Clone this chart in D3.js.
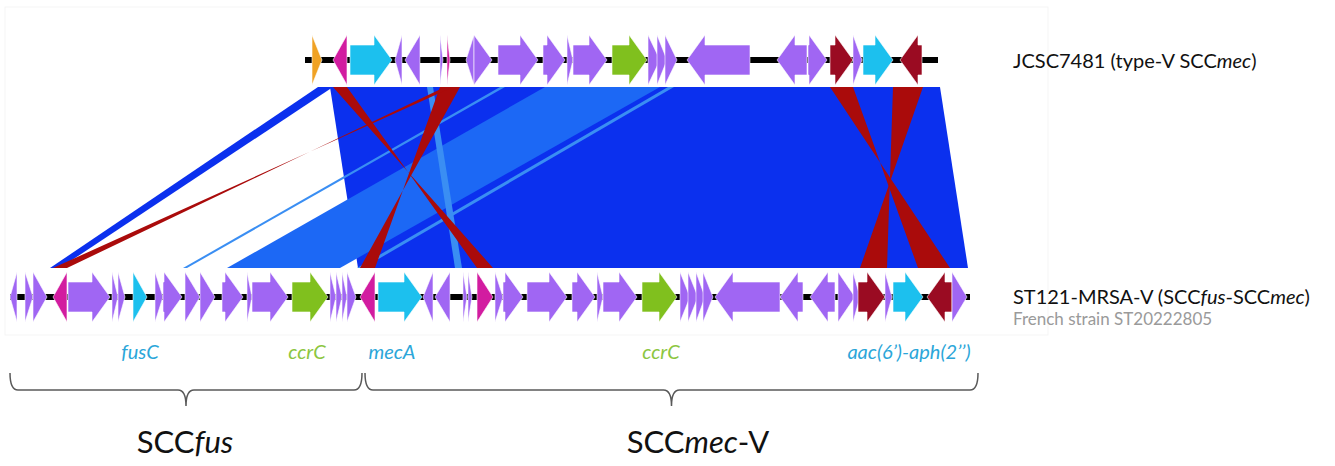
<!DOCTYPE html>
<html>
<head>
<meta charset="utf-8">
<script src="https://cdn.jsdelivr.net/npm/d3@7"></script>
<style>
  body { margin: 0; background: #fff; }
  text { font-family: Lato, "Open Sans", sans-serif; }
</style>
</head>
<body>
<div id="chart"></div>
<script>
var w = 1335;
var h = 466;

// positions in kb, both tracks on one aligned axis
var topLine = [14.75, 46.4];
var bottomLine = [0, 48];

// [start, end, strand, type]
var topGenes = [
  [15.10, 15.60, 1, "other"], [16.15, 16.85, -1, "tnp"], [17.00, 19.10, 1, "res"],
  [19.25, 19.60, -1, "cds"], [19.75, 20.50, -1, "cds"], [21.50, 21.65, 1, "cds"],
  [21.85, 22.00, 1, "tnp"], [22.80, 23.20, -1, "cds"], [23.20, 24.10, 1, "cds"],
  [24.40, 26.40, 1, "cds"], [26.65, 27.75, 1, "cds"], [27.85, 28.15, 1, "cds"],
  [28.15, 29.85, 1, "cds"], [30.10, 31.85, 1, "ccr"], [31.90, 32.50, 1, "cds"],
  [32.35, 32.85, 1, "cds"], [32.75, 33.35, 1, "cds"], [33.85, 37.00, -1, "cds"],
  [38.35, 39.85, -1, "cds"], [39.90, 40.85, 1, "cds"], [41.00, 42.15, 1, "is"],
  [42.15, 42.60, 1, "cds"], [42.65, 44.15, 1, "res"], [44.50, 45.60, -1, "is"]
];

var bottomGenes = [
  [0.00, 0.35, -1, "cds"], [0.75, 1.15, 1, "cds"], [1.15, 1.85, 1, "cds"],
  [2.15, 2.85, -1, "tnp"], [2.90, 5.00, 1, "cds"], [5.10, 5.40, 1, "cds"],
  [5.40, 5.75, 1, "cds"], [6.15, 6.85, 1, "res"], [7.25, 7.65, 1, "cds"],
  [7.65, 8.60, 1, "cds"], [8.75, 9.50, 1, "cds"], [9.50, 10.25, 1, "cds"],
  [10.60, 11.65, 1, "cds"], [11.85, 12.10, 1, "cds"], [12.10, 13.90, 1, "cds"],
  [14.10, 15.90, 1, "ccr"], [16.00, 16.30, 1, "cds"], [16.30, 16.60, 1, "cds"],
  [16.60, 16.85, 1, "cds"], [16.85, 17.30, 1, "cds"], [17.50, 18.25, -1, "tnp"],
  [18.40, 20.60, 1, "res"], [20.65, 21.15, -1, "cds"], [21.25, 22.00, -1, "cds"],
  [22.65, 22.85, 1, "cds"], [22.90, 23.10, 1, "cds"], [23.35, 24.15, 1, "tnp"],
  [24.25, 24.65, 1, "cds"], [24.65, 25.65, 1, "cds"], [25.85, 27.85, 1, "cds"],
  [28.10, 29.25, 1, "cds"], [29.35, 29.65, 1, "cds"], [29.65, 31.35, 1, "cds"],
  [31.60, 33.35, 1, "ccr"], [33.50, 34.00, 1, "cds"], [33.90, 34.40, 1, "cds"],
  [34.30, 34.75, 1, "cds"], [34.65, 35.15, 1, "cds"], [35.25, 38.50, -1, "cds"],
  [38.50, 39.65, -1, "cds"], [40.00, 41.25, -1, "cds"], [41.40, 42.25, 1, "cds"],
  [42.15, 42.50, 1, "cds"], [42.40, 43.75, 1, "is"], [43.75, 44.10, 1, "cds"],
  [44.15, 45.65, 1, "res"], [45.85, 47.10, -1, "is"], [47.10, 47.85, 1, "cds"]
];

// blast hits: [topStart, topEnd, bottomStart, bottomEnd, kind]
var hits = [
  [16.00, 46.50, 17.40, 47.90, "fwd"],
  [15.40, 16.15, 2.00, 2.50, "fwd"],
  [26.75, 32.50, 10.85, 16.50, "fwdLow"],
  [32.90, 33.20, 17.35, 17.65, "fwdWeak"],
  [24.50, 24.75, 8.65, 8.85, "fwdWeak"],
  [20.85, 21.15, 22.25, 22.60, "fwdWeak"],
  [16.15, 16.85, 23.35, 24.15, "inv"],
  [21.50, 22.50, 17.50, 18.25, "inv"],
  [21.75, 22.15, 2.15, 2.85, "inv"],
  [41.00, 42.15, 45.40, 47.00, "inv"],
  [44.15, 45.65, 42.50, 43.85, "inv"]
];

var geneLabels = ["fusC", "ccrC", "mecA", "ccrC", "aac(6\u2019)-aph(2\u2019\u2019)"];
var geneLabelPos = [6.5, 14.85, 19.1, 32.55, 44.95];
var geneLabelType = ["res", "ccr", "res", "ccr", "res"];

var regions = [[0, 17.6], [17.75, 48.4]];
var regionLabelPos = [8.75, 34.4];
var regionNames = [["SCC", "fus", ""], ["SCC", "mec", "-V"]];

var geneColor = d3.scaleOrdinal()
  .domain(["cds", "tnp", "res", "ccr", "is", "other"])
  .range(["#a066f3", "#d21ca0", "#1cc0ee", "#80c01e", "#9a0b22", "#f0a224"]);
var hitColor = d3.scaleOrdinal()
  .domain(["fwd", "fwdLow", "fwdWeak", "inv"])
  .range(["#0b30ee", "#1c68f5", "#3a8ef3", "#aa0b0b"]);
var labelColor = d3.scaleOrdinal()
  .domain(["res", "ccr"]).range(["#2ba6d9", "#8cc63f"]);

var x = d3.scaleLinear().domain([0, 48]).range([10, 970]);
var topY = 60, bottomY = 297;
var hitTop = 87, hitBottom = 268;

var svg = d3.select("#chart").append("svg")
  .attr("width", w).attr("height", h);

// faint frame around the figure
svg.append("rect")
  .attr("x", 5).attr("y", 7).attr("width", 1043).attr("height", 328)
  .attr("fill", "none").attr("stroke", "#f5f5f5");

// comparison polygons
svg.selectAll("polygon.hit")
  .data(hits)
  .enter().append("polygon")
  .attr("class", "hit")
  .attr("points", function (d) {
    var p = [[x(d[0]), hitTop], [x(d[1]), hitTop]];
    if (d[4] == "inv") p.push([x(d[2]), hitBottom], [x(d[3]), hitBottom]);
    else p.push([x(d[3]), hitBottom], [x(d[2]), hitBottom]);
    return p.join(" ");
  })
  .attr("fill", function (d) { return hitColor(d[4]); });

function genePath(d, cy) {
  var x0 = x(d[0]), x1 = x(d[1]);
  var head = Math.min(18, x1 - x0);
  var hh = 25, bh = 15;
  var p;
  if (d[2] > 0) {
    var b = x1 - head;
    p = head >= x1 - x0
      ? [[x0, cy - hh], [x1, cy], [x0, cy + hh]]
      : [[x0, cy - bh], [b, cy - bh], [b, cy - hh], [x1, cy], [b, cy + hh], [b, cy + bh], [x0, cy + bh]];
  } else {
    var b = x0 + head;
    p = head >= x1 - x0
      ? [[x1, cy - hh], [x0, cy], [x1, cy + hh]]
      : [[x1, cy - bh], [b, cy - bh], [b, cy - hh], [x0, cy], [b, cy + hh], [b, cy + bh], [x1, cy + bh]];
  }
  return "M" + p.join("L") + "Z";
}

function drawTrack(genes, line, cy) {
  var g = svg.append("g");
  g.append("line")
    .attr("x1", x(line[0])).attr("x2", x(line[1]))
    .attr("y1", cy).attr("y2", cy)
    .attr("stroke", "#000").attr("stroke-width", 6);
  g.selectAll("path")
    .data(genes)
    .enter().append("path")
    .attr("d", function (d) { return genePath(d, cy); })
    .attr("fill", function (d) { return geneColor(d[3]); })
    .attr("stroke", "#fff").attr("stroke-width", 0.6);
}
drawTrack(topGenes, topLine, topY);
drawTrack(bottomGenes, bottomLine, bottomY);

// track names
svg.append("text").attr("x", 1013).attr("y", 68)
  .attr("font-size", 20).attr("fill", "#111")
  .call(function (t) {
    t.append("tspan").text("JCSC7481 (type-V SCC");
    t.append("tspan").attr("font-style", "italic").text("mec");
    t.append("tspan").text(")");
  });
svg.append("text").attr("x", 1013).attr("y", 304)
  .attr("font-size", 20).attr("fill", "#111")
  .call(function (t) {
    t.append("tspan").text("ST121-MRSA-V (SCC");
    t.append("tspan").attr("font-style", "italic").text("fus");
    t.append("tspan").text("-SCC");
    t.append("tspan").attr("font-style", "italic").text("mec");
    t.append("tspan").text(")");
  });
svg.append("text").attr("x", 1013).attr("y", 325)
  .attr("font-size", 17).attr("fill", "#9a9a9a")
  .text("French strain ST20222805");

// gene labels
svg.selectAll("text.gl")
  .data(geneLabels)
  .enter().append("text")
  .attr("class", "gl")
  .attr("x", function (d, i) { return x(geneLabelPos[i]); })
  .attr("y", 359)
  .attr("text-anchor", "middle")
  .attr("font-size", 20).attr("font-style", "italic")
  .attr("fill", function (d, i) { return labelColor(geneLabelType[i]); })
  .text(function (d) { return d; });

// braces
svg.selectAll("path.brace")
  .data(regions)
  .enter().append("path")
  .attr("class", "brace")
  .attr("d", function (d) {
    var a = x(d[0]), b = x(d[1]), m = (a + b) / 2;
    var y0 = 373, y1 = 390, y2 = 406;
    return "M" + a + "," + y0 + " Q" + a + "," + y1 + " " + (a + 8) + "," + y1 +
      " L" + (m - 8) + "," + y1 + " Q" + m + "," + y1 + " " + m + "," + y2 +
      " Q" + m + "," + y1 + " " + (m + 8) + "," + y1 +
      " L" + (b - 8) + "," + y1 + " Q" + b + "," + y1 + " " + b + "," + y0;
  })
  .attr("fill", "none").attr("stroke", "#595959").attr("stroke-width", 1.5);

svg.selectAll("text.region")
  .data(regionNames)
  .enter().append("text")
  .attr("class", "region")
  .attr("x", function (d, i) { return x(regionLabelPos[i]); })
  .attr("y", 453)
  .attr("text-anchor", "middle")
  .attr("font-size", 31).attr("fill", "#111")
  .each(function (d) {
    var t = d3.select(this);
    t.append("tspan").text(d[0]);
    t.append("tspan").attr("font-style", "italic").text(d[1]);
    t.append("tspan").text(d[2]);
  });
</script>
</body>
</html>
